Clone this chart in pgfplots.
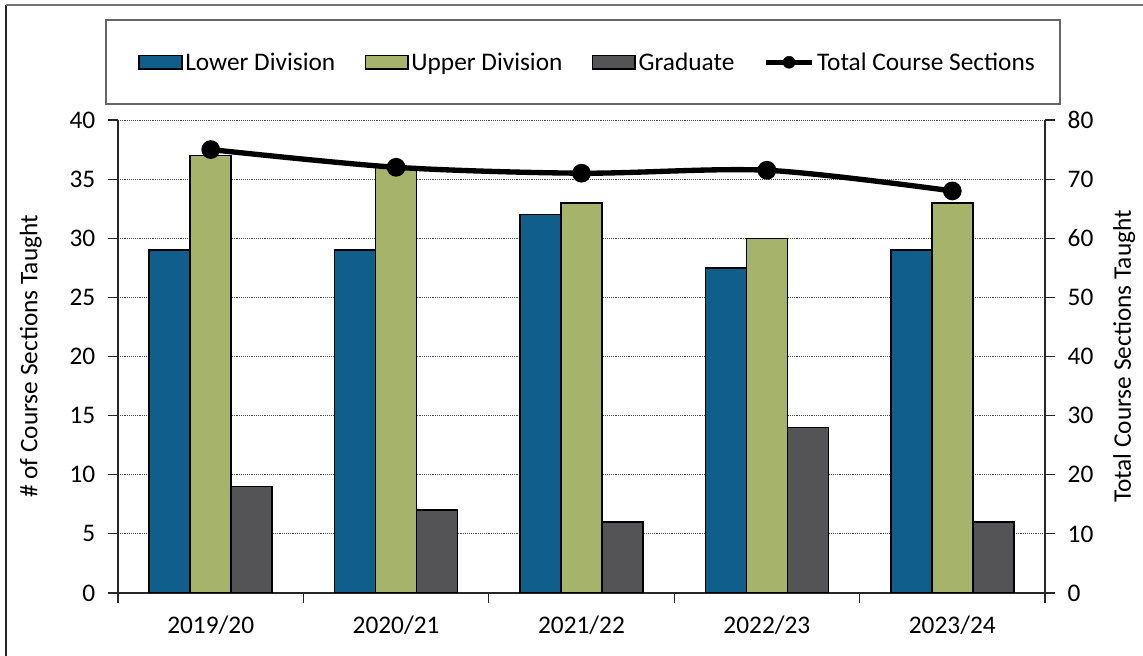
\documentclass[border=0pt]{standalone}
\usepackage{fontspec}
\setmainfont{Carlito}
\usepackage{pgfplots}
\pgfplotsset{compat=1.18}
\definecolor{lowc}{RGB}{16,94,140}
\definecolor{upc}{RGB}{166,179,106}
\definecolor{gradc}{RGB}{84,84,86}
\begin{document}
\begin{tikzpicture}[x=0.75pt,y=0.75pt]
\path[use as bounding box] (0,0) rectangle (1143,656);
\draw[line width=1.5pt,black!85] (6,0) -- (6,651);
\draw[line width=1.5pt,black!55] (6,651) -- (1143,651);
\draw[line width=0.9pt,black!60] (106,552) rectangle (1060,636);
\begin{axis}[
  at={(88.5pt,47.25pt)}, anchor=south west,
  scale only axis, width=695.25pt, height=354.75pt,
  /pgf/number format/assume math mode=true,
  ybar=0pt, bar width=30.75pt,
  xmin=-0.5, xmax=4.5, ymin=0, ymax=40,
  xtick={-0.5,0.5,1.5,2.5,3.5,4.5},
  xticklabels={2019/20,2020/21,2021/22,2022/23,2023/24},
  x tick label as interval,
  ytick={0,5,...,40},
  axis x line*=bottom, axis y line*=left,
  axis line style={line width=1pt,black!85},
  tick align=outside, major tick length=7.5pt,
  tick style={line width=0.8pt,black!85},
  ymajorgrids, grid style={densely dotted,black!70,line width=0.6pt},
  tick label style={font=\fontsize{19}{22}\selectfont},
  xticklabel style={yshift=-6pt},
  yticklabel style={xshift=-6pt},
  ylabel={\# of Course Sections Taught},
  ylabel style={font=\fontsize{19}{22}\selectfont},
  ylabel shift=14pt,
  legend columns=4,
  legend style={at={(0.507,1.122)}, anchor=center, draw=none, fill=none,
    font=\fontsize{19}{22}\selectfont,
    /tikz/every even column/.append style={column sep=20pt}},
  legend image code/.code={\draw[#1,line width=1.1pt] (0pt,-5pt) rectangle (32pt,5pt);},
]
\addplot[fill=lowc, draw=black, line width=1.1pt] coordinates {(0,29) (1,29) (2,32) (3,27.5) (4,29)};
\addplot[fill=upc, draw=black, line width=1.1pt] coordinates {(0,37) (1,36) (2,33) (3,30) (4,33)};
\addplot[fill=gradc, draw=black, line width=1.1pt] coordinates {(0,9) (1,7) (2,6) (3,14) (4,6)};
\legend{Lower Division, Upper Division, Graduate}
\addlegendimage{legend image code/.code={\draw[black,line width=4pt] (0pt,0pt) -- (34pt,0pt); \fill[black] (17pt,0pt) circle (4.5pt);}}
\addlegendentry{Total Course Sections}
\end{axis}
\begin{axis}[
  at={(88.5pt,47.25pt)}, anchor=south west,
  scale only axis, width=695.25pt, height=354.75pt,
  /pgf/number format/assume math mode=true,
  xmin=-0.5, xmax=4.5, ymin=0, ymax=80,
  ytick={0,10,...,80},
  axis x line=none, axis y line*=right,
  axis line style={line width=1pt,black!85},
  tick align=outside, major tick length=7.5pt,
  tick style={line width=0.8pt,black!85},
  tick label style={font=\fontsize{19}{22}\selectfont},
  yticklabel style={xshift=6pt},
  ylabel={Total Course Sections Taught},
  ylabel style={font=\fontsize{19}{22}\selectfont},
  ylabel shift=8pt,
]
\addplot[black, line width=4pt, smooth, mark=*, mark size=5pt] coordinates {(0,75) (1,72) (2,71) (3,71.5) (4,68)};
\end{axis}
\end{tikzpicture}
\end{document}
